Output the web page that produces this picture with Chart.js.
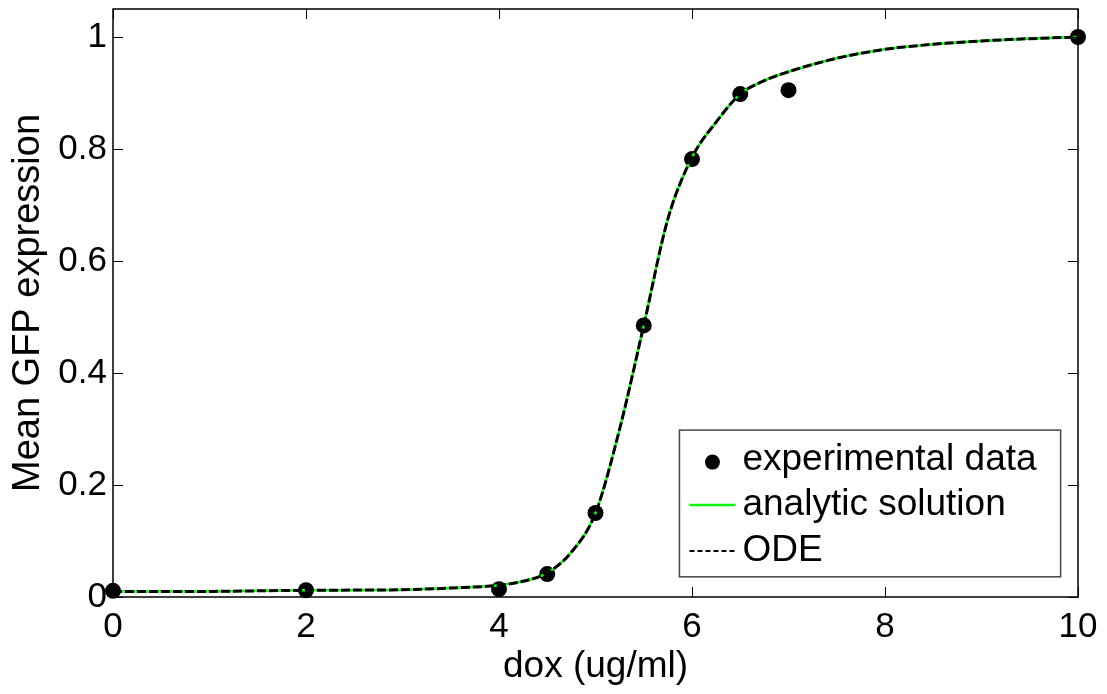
<!DOCTYPE html>
<html lang="en">
<head>
    <meta charset="UTF-8">
    <title>GFP dose response</title>
    <script src="https://cdn.jsdelivr.net/npm/chart.js"></script>
    <style>
        body {
            margin: 0;
            padding: 0;
            background-color: white;
        }
        canvas {
            display: block;
        }
    </style>
</head>
<body>
    <canvas id="doseChart" width="1107" height="694"></canvas>

    <script>
        // experimental points
        let doxValues = [0, 2, 4, 4.5, 5, 5.5, 6, 6.5, 7, 10];
        let gfpValues = [0.011, 0.012, 0.014, 0.041, 0.15, 0.485, 0.782, 0.898, 0.905, 1.0];

        // fitted curves
        let curveDox = [0, 1, 1.5, 2, 3, 3.5, 4, 4.25, 4.5, 4.75, 5, 5.25, 5.5, 5.75, 6, 6.25, 6.5, 6.75, 7, 7.5, 8, 8.5, 9, 9.5, 10];
        let analyticValues = [0.010, 0.010, 0.011, 0.012, 0.013, 0.016, 0.021, 0.028, 0.043, 0.08, 0.15, 0.30, 0.485, 0.675, 0.785, 0.848, 0.898, 0.922, 0.938, 0.962, 0.978, 0.987, 0.993, 0.997, 1.0];
        let odeValues = [0.010, 0.010, 0.011, 0.012, 0.013, 0.016, 0.021, 0.028, 0.043, 0.08, 0.15, 0.30, 0.485, 0.675, 0.785, 0.848, 0.898, 0.922, 0.938, 0.962, 0.978, 0.987, 0.993, 0.997, 1.0];

        let xTickValues = [0, 2, 4, 6, 8, 10];
        let yTickValues = [0, 0.2, 0.4, 0.6, 0.8, 1];

        let seriesNames = ['experimental data', 'analytic solution', 'ODE'];

        const FONT = '"Liberation Sans", Arial, Helvetica, sans-serif';

        function pairs(xs, ys) {
            return xs.map((x, i) => ({ x: x, y: ys[i] }));
        }

        // MATLAB-like box with inward ticks on all sides
        const boxPlugin = {
            id: 'box',
            afterDraw(chart) {
                let c = chart.ctx;
                let a = chart.chartArea;
                let xs = chart.scales.x, ys = chart.scales.y;
                c.save();
                c.strokeStyle = '#000';
                c.lineWidth = 1;
                xTickValues.forEach(v => {
                    let px = Math.round(xs.getPixelForValue(v)) + 0.5;
                    c.beginPath();
                    c.moveTo(px, a.bottom); c.lineTo(px, a.bottom - 10);
                    c.moveTo(px, a.top); c.lineTo(px, a.top + 10);
                    c.stroke();
                });
                yTickValues.forEach(v => {
                    let py = Math.round(ys.getPixelForValue(v)) + 0.5;
                    c.beginPath();
                    c.moveTo(a.left, py); c.lineTo(a.left + 10, py);
                    c.moveTo(a.right, py); c.lineTo(a.right - 10, py);
                    c.stroke();
                });
                c.lineWidth = 1.5;
                c.strokeRect(a.left, a.top, a.right - a.left, a.bottom - a.top);
                c.restore();
            }
        };

        // legend inside the axes, lower right
        const legendPlugin = {
            id: 'innerLegend',
            afterDraw(chart) {
                let c = chart.ctx;
                let xs = chart.scales.x, ys = chart.scales.y;
                let left = xs.getPixelForValue(5.87);
                let right = xs.getPixelForValue(9.82);
                let top = ys.getPixelForValue(0.298);
                let bottom = ys.getPixelForValue(0.036);
                c.save();
                c.fillStyle = '#fff';
                c.fillRect(left, top, right - left, bottom - top);
                c.strokeStyle = '#444';
                c.lineWidth = 1.5;
                c.strokeRect(left, top, right - left, bottom - top);

                let rows = [top + 30, top + 75, top + 121];
                let symL = left + 10, symR = left + 56, textX = left + 63;

                c.fillStyle = '#000';
                c.beginPath();
                c.arc(left + 33, rows[0] + 2, 7.5, 0, Math.PI * 2);
                c.fill();

                c.strokeStyle = '#00ff00';
                c.lineWidth = 2.5;
                c.beginPath();
                c.moveTo(symL, rows[1]); c.lineTo(symR, rows[1]);
                c.stroke();

                c.strokeStyle = '#000';
                c.lineWidth = 2;
                c.setLineDash([5, 3]);
                c.beginPath();
                c.moveTo(symL, rows[2]); c.lineTo(symR, rows[2]);
                c.stroke();
                c.setLineDash([]);

                c.font = '37px ' + FONT;
                c.textBaseline = 'middle';
                c.fillStyle = '#000';
                seriesNames.forEach((name, i) => c.fillText(name, textX, rows[i]));
                c.restore();
            }
        };

        let ctx = document.getElementById('doseChart').getContext('2d');
        let doseChart = new Chart(ctx, {
            type: 'scatter',
            data: {
                datasets: [
                    {
                        label: seriesNames[0],
                        data: pairs(doxValues, gfpValues),
                        showLine: false,
                        pointRadius: 8,
                        pointBackgroundColor: '#000',
                        pointBorderColor: '#000',
                        pointBorderWidth: 0,
                        clip: false,
                        order: 2
                    },
                    {
                        label: seriesNames[1],
                        data: pairs(curveDox, analyticValues),
                        showLine: true,
                        pointRadius: 0,
                        borderColor: '#00ff00',
                        borderWidth: 2.5,
                        cubicInterpolationMode: 'monotone',
                        order: 1
                    },
                    {
                        label: seriesNames[2],
                        data: pairs(curveDox, odeValues),
                        showLine: true,
                        pointRadius: 0,
                        borderColor: '#000',
                        borderWidth: 3,
                        borderDash: [9, 3],
                        cubicInterpolationMode: 'monotone',
                        order: 0
                    }
                ]
            },
            options: {
                responsive: false,
                animation: false,
                layout: { padding: { top: 9, right: 29, left: 0, bottom: 0 } },
                plugins: {
                    legend: { display: false },
                    tooltip: { enabled: false }
                },
                scales: {
                    x: {
                        type: 'linear',
                        min: 0,
                        max: 10,
                        afterBuildTicks: s => { s.ticks = xTickValues.map(v => ({ value: v })); },
                        afterFit: s => { s.height = 97; s.paddingLeft = 0; s.paddingRight = 0; },
                        grid: { display: false, drawTicks: false },
                        border: { display: false },
                        ticks: {
                            color: '#000',
                            padding: 9,
                            maxRotation: 0,
                            font: { family: FONT, size: 35 }
                        },
                        title: {
                            display: true,
                            text: 'dox (ug/ml)',
                            color: '#000',
                            padding: { top: 0, bottom: 5 },
                            font: { family: FONT, size: 37 }
                        }
                    },
                    y: {
                        type: 'linear',
                        min: 0,
                        max: 1.05,
                        afterBuildTicks: s => { s.ticks = yTickValues.map(v => ({ value: v })); },
                        afterFit: s => { s.width = 113; s.paddingTop = 0; s.paddingBottom = 0; },
                        grid: { display: false, drawTicks: false },
                        border: { display: false },
                        ticks: {
                            color: '#000',
                            padding: 6,
                            font: { family: FONT, size: 35 },
                            callback: v => String(v)
                        },
                        title: {
                            display: true,
                            text: 'Mean GFP expression',
                            color: '#000',
                            padding: { top: 6, bottom: 0 },
                            font: { family: FONT, size: 38 }
                        }
                    }
                }
            },
            plugins: [boxPlugin, legendPlugin]
        });
    </script>
</body>
</html>
